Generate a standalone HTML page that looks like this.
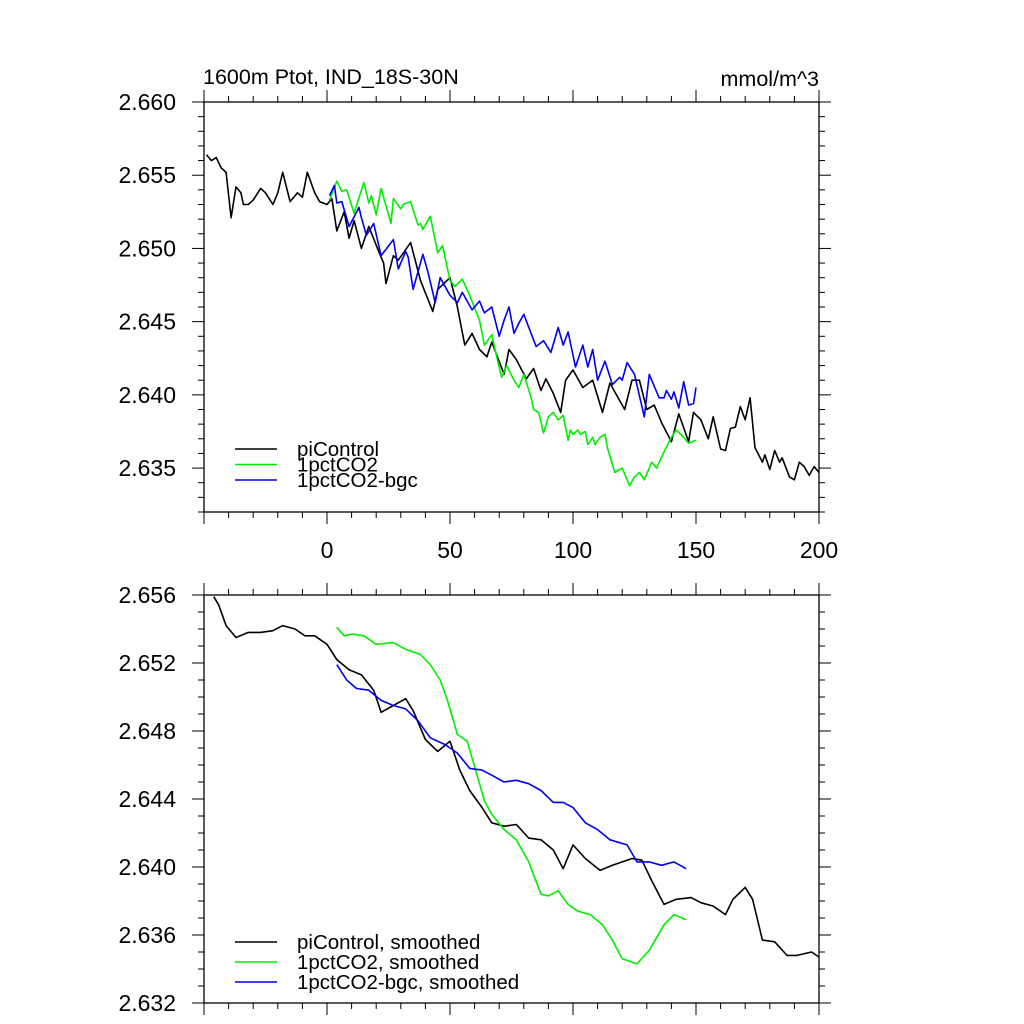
<!DOCTYPE html>
<html><head><meta charset="utf-8">
<style>
html,body{margin:0;padding:0;background:#fff;}
svg{display:block;font-family:"Liberation Sans",sans-serif;}
</style></head>
<body>
<svg id="chart" width="1024" height="1024" viewBox="0 0 1024 1024"></svg>
<script>
// ---- Data (year, value) ----
const topPi = [[-49,2.6564],[-47,2.6560],[-45,2.6562],[-43,2.6555],[-41,2.6552],[-39,2.6521],[-37,2.6542],[-35,2.6538],[-34,2.6530],[-32,2.6530],[-30,2.6533],[-27,2.6541],[-25,2.6538],[-22,2.6530],[-20,2.6538],[-18,2.6552],[-15,2.6532],[-12,2.6538],[-10,2.6535],[-8,2.6552],[-5,2.6538],[-3,2.6532],[0,2.6530],[2,2.6534],[4,2.6512],[7,2.6525],[9,2.6507],[11,2.6519],[14,2.6500],[17,2.6515],[21,2.6498],[23,2.6490],[24,2.6476],[27,2.6495],[29,2.6492],[34,2.6504],[38,2.6478],[43,2.6457],[45,2.6472],[50,2.6480],[53,2.6460],[56,2.6434],[59,2.6442],[62,2.6431],[65,2.6426],[67,2.6436],[72,2.6414],[74,2.6431],[77,2.6424],[81,2.6411],[84,2.6418],[87,2.6403],[89,2.6411],[92,2.6401],[95,2.6388],[97,2.6410],[100,2.6417],[104,2.6405],[108,2.6410],[112,2.6388],[115,2.6408],[121,2.6390],[124,2.6410],[127,2.6410],[130,2.6390],[133,2.6393],[136,2.6381],[140,2.6368],[143,2.6387],[147,2.6368],[149,2.6388],[152,2.6383],[155,2.6370],[157,2.6385],[160,2.6363],[162,2.6362],[164,2.6377],[166,2.6378],[168,2.6392],[170,2.6383],[172,2.6398],[174,2.6364],[177,2.6354],[178,2.6359],[180,2.6349],[182,2.6362],[184,2.6354],[185,2.6357],[188,2.6344],[190,2.6342],[192,2.6354],[194,2.6351],[196,2.6345],[198,2.6351],[200,2.6347]];
const topCO2 = [[1,2.6533],[4,2.6546],[6,2.6539],[8,2.6540],[11,2.6524],[15,2.6545],[17,2.6531],[18,2.6536],[20,2.6523],[22,2.6541],[26,2.6517],[27,2.6534],[30,2.6527],[31,2.6530],[34,2.6532],[37,2.6516],[38,2.6517],[39,2.6513],[42,2.6522],[45,2.6497],[47,2.6502],[50,2.6478],[52,2.6474],[55,2.6479],[58,2.6468],[62,2.6451],[64,2.6434],[67,2.6441],[69,2.6426],[71,2.6412],[73,2.6420],[76,2.6410],[78,2.6405],[80,2.6414],[83,2.6398],[84,2.6390],[86,2.6388],[88,2.6374],[90,2.6385],[92,2.6388],[94,2.6383],[96,2.6386],[98,2.6369],[99,2.6376],[100,2.6373],[102,2.6376],[103,2.6373],[105,2.6375],[106,2.6366],[108,2.6371],[109,2.6366],[111,2.6371],[113,2.6373],[114,2.6364],[117,2.6347],[120,2.6350],[123,2.6338],[125,2.6344],[127,2.6347],[129,2.6342],[132,2.6354],[134,2.6350],[137,2.6361],[140,2.6371],[142,2.6376],[145,2.6371],[147,2.6367],[150,2.6369]];
const topBgc = [[1,2.6536],[3,2.6543],[4,2.6531],[6,2.6532],[9,2.6515],[13,2.6528],[14,2.6521],[16,2.6509],[19,2.6517],[22,2.6495],[27,2.6506],[29,2.6486],[32,2.6498],[33,2.6494],[35,2.6472],[39,2.6496],[41,2.6484],[44,2.6463],[46,2.6480],[50,2.6468],[53,2.6463],[55,2.6470],[59,2.6458],[62,2.6464],[64,2.6456],[67,2.6460],[70,2.6440],[72,2.6451],[74,2.6460],[76,2.6442],[78,2.6449],[80,2.6455],[85,2.6433],[88,2.6437],[91,2.6429],[94,2.6446],[96,2.6434],[98,2.6443],[101,2.6419],[104,2.6434],[106,2.6419],[108,2.6431],[110,2.6410],[113,2.6423],[116,2.6407],[119,2.6412],[120,2.6410],[122,2.6422],[125,2.6414],[129,2.6385],[131,2.6414],[135,2.6398],[137,2.6398],[138,2.6403],[140,2.6397],[141,2.6402],[143,2.6391],[145,2.6409],[147,2.6393],[149,2.6394],[150,2.6405]];
const botPi = [[-46,2.6559],[-44,2.6554],[-41,2.6542],[-37,2.6535],[-32,2.6538],[-27,2.6538],[-22,2.6539],[-18,2.6542],[-13,2.6540],[-9,2.6536],[-5,2.6536],[0,2.6531],[4,2.6522],[9,2.6516],[14,2.6513],[19,2.6504],[22,2.6491],[27,2.6495],[32,2.6499],[35,2.6492],[40,2.6475],[45,2.6468],[50,2.6474],[54,2.6457],[58,2.6445],[63,2.6435],[67,2.6426],[72,2.6424],[77,2.6425],[82,2.6417],[87,2.6416],[92,2.6410],[96,2.6399],[100,2.6413],[105,2.6405],[111,2.6398],[116,2.6401],[124,2.6405],[128,2.6404],[132,2.6392],[137,2.6378],[142,2.6381],[148,2.6382],[152,2.6379],[157,2.6377],[162,2.6372],[165,2.6381],[170,2.6388],[173,2.6381],[177,2.6357],[182,2.6356],[187,2.6348],[191,2.6348],[197,2.6350],[200,2.6347]];
const botCO2 = [[4,2.6541],[7,2.6536],[10,2.6537],[15,2.6536],[20,2.6531],[27,2.6532],[32,2.6528],[38,2.6525],[42,2.6519],[46,2.6510],[49,2.6498],[53,2.6478],[57,2.6474],[61,2.6454],[64,2.6439],[67,2.6431],[72,2.6422],[77,2.6416],[82,2.6403],[87,2.6384],[90,2.6383],[94,2.6386],[98,2.6378],[102,2.6374],[107,2.6372],[112,2.6366],[116,2.6357],[120,2.6346],[126,2.6343],[131,2.6351],[137,2.6366],[141,2.6372],[146,2.6369]];
const botBgc = [[4,2.6519],[8,2.6510],[12,2.6505],[17,2.6504],[22,2.6498],[27,2.6495],[32,2.6493],[37,2.6486],[42,2.6476],[48,2.6472],[53,2.6467],[58,2.6458],[63,2.6457],[67,2.6454],[72,2.6450],[77,2.6451],[82,2.6449],[87,2.6445],[92,2.6438],[96,2.6438],[100,2.6435],[105,2.6426],[110,2.6422],[115,2.6416],[122,2.6413],[126,2.6403],[131,2.6403],[136,2.6401],[141,2.6403],[146,2.6399]];
const xTicks = [0,50,100,150,200];
const topYTicks = ["2.635","2.640","2.645","2.650","2.655","2.660"];
const botYTicks = ["2.632","2.636","2.640","2.644","2.648","2.652","2.656"];
const topLegend = ["piControl","1pctCO2","1pctCO2-bgc"];
const botLegend = ["piControl, smoothed","1pctCO2, smoothed","1pctCO2-bgc, smoothed"];
const colors = ["#000000","#00ee00","#0000ee"];

const svg = document.getElementById('chart');
const NS = 'http://www.w3.org/2000/svg';
function mk(tag, attrs, parent){
  const e = document.createElementNS(NS, tag);
  for (const k in attrs) e.setAttribute(k, attrs[k]);
  (parent||svg).appendChild(e);
  return e;
}
const L = 204, R = 819;
const xs = v => L + (v + 50) / 250 * (R - L);

function panel(prefix, top, bottom, ymin, ymax, yTicks, minorStep, series, legend, legendY, legendGap, showXLabels){
  const ys = v => bottom - (v - ymin) / (ymax - ymin) * (bottom - top);
  const g = mk('g', {});
  
  
  series.forEach((s, i) => {
    const p = mk('polyline', {points: s.map(d => xs(d[0]).toFixed(1) + ',' + ys(d[1]).toFixed(1)).join(' '), fill:'none', stroke:colors[i], 'stroke-width':1.6, 'stroke-linejoin':'round'}, g);
    
    
  });
  const f = mk('rect', {x:L, y:top, width:R-L, height:bottom-top, fill:'none', stroke:'#000', 'stroke-width':1.3}, g);
  
  
  for (let yr = -50; yr <= 200; yr += 10) {
    const x = xs(yr), major = (yr % 50 === 0);
    const len = major ? 12 : 6;
    mk('line', {x1:x, y1:top, x2:x, y2:top-len, stroke:'#000', 'stroke-width':1}, g);
    mk('line', {x1:x, y1:bottom, x2:x, y2:bottom+len, stroke:'#000', 'stroke-width':1}, g);
  }
  if (showXLabels) xTicks.forEach(t => {
    const tx = mk('text', {x:xs(t), y:bottom+46, 'font-size':23, 'text-anchor':'middle'}, g);
    tx.textContent = t;
    
    
  });
  const nMinor = Math.round((ymax - ymin) / minorStep);
  for (let k = 0; k <= nMinor; k++) {
    const v = ymin + k * minorStep, y = ys(v);
    const major = yTicks.some(t => Math.abs(parseFloat(t) - v) < 1e-7);
    const len = major ? 12 : 6;
    mk('line', {x1:L, y1:y, x2:L-len, y2:y, stroke:'#000', 'stroke-width':1}, g);
    mk('line', {x1:R, y1:y, x2:R+len, y2:y, stroke:'#000', 'stroke-width':1}, g);
  }
  yTicks.forEach(t => {
    const tx = mk('text', {x:176, y:ys(parseFloat(t))+8, 'font-size':23, 'text-anchor':'end'}, g);
    tx.textContent = t;
    
    
  });
  legend.forEach((lab, i) => {
    const y = legendY + i * legendGap;
    const ln = mk('line', {x1:235, y1:y, x2:277, y2:y, stroke:colors[i], 'stroke-width':1.6}, g);
    
    
    const tx = mk('text', {x:297, y:y+7, 'font-size':20.5}, g);
    tx.textContent = lab;
    
    
  });
}

panel('top', 102, 512, 2.632, 2.660, topYTicks, 0.001, [topPi, topCO2, topBgc], topLegend, 449, 15.5, true);
panel('bottom', 595, 1003, 2.632, 2.656, botYTicks, 0.001, [botPi, botCO2, botBgc], botLegend, 942, 20, false);

const t1 = mk('text', {x:203, y:84, 'font-size':21.5});
t1.textContent = '1600m Ptot, IND_18S-30N';


const t2 = mk('text', {x:819, y:86, 'font-size':21.5, 'text-anchor':'end'});
t2.textContent = 'mmol/m^3';


</script>
</body></html>
